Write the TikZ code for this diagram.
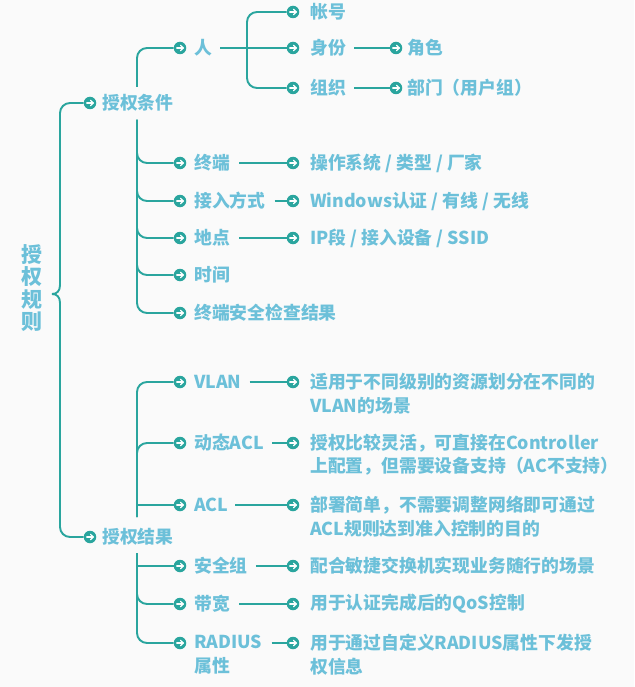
\documentclass[tikz,border=0pt]{standalone}
\usepackage{fontspec}
\setmainfont{Noto Sans CJK SC}
\definecolor{bgc}{HTML}{FAFAFA}
\definecolor{tealc}{HTML}{2AA59E}
\definecolor{txtc}{HTML}{6CC0D9}
\tikzset{
  conn/.style={draw=tealc, line width=1.9pt},
  rc/.style={rounded corners=10pt},
  dot/.style={circle, fill=tealc, minimum size=12.5pt, inner sep=0pt,
    path picture={
      \draw[white, line width=1.1pt, line cap=round]
        ([xshift=-3.3pt]path picture bounding box.center) -- ([xshift=3.2pt]path picture bounding box.center);
      \draw[white, line width=1.1pt, line cap=round, line join=round]
        ([xshift=0.4pt,yshift=2.8pt]path picture bounding box.center) -- ([xshift=3.3pt]path picture bounding box.center) -- ([xshift=0.4pt,yshift=-2.8pt]path picture bounding box.center);
    }},
  lbl/.style={anchor=west, inner sep=0pt, text=txtc, align=left,
    font=\fontsize{17.8}{23.5}\selectfont\bfseries},
}
\begin{document}
\begin{tikzpicture}[x=1pt,y=-1pt]
\fill[bgc] (0,0) rectangle (634,687);
\useasboundingbox (0,0) rectangle (634,687);

% root
\node[lbl, anchor=center, align=center, font=\fontsize{21}{22.5}\selectfont\bfseries] (root) at (32,288) {授\\权\\规\\则};

% level 1
\node[dot] (c-sq) at (90,103) {};
\node[lbl] (t-sq) at (102,103) {授权条件};
\node[dot] (c-jg) at (90,537) {};
\node[lbl] (t-jg) at (102,537) {授权结果};

\coordinate (tip) at (52,294);
\draw[conn] (tip) .. controls (57,294) and (60,291) .. (60,285) [rounded corners=10pt] |- (c-sq);
\draw[conn] (tip) .. controls (57,294) and (60,297) .. (60,303) [rounded corners=10pt] |- (c-jg);

% level 2 : conditions
\node[dot] (c-ren) at (180,48) {};  \node[lbl] (t-ren) at (194,48) {人};
\node[dot] (c-zd) at (180,163) {};  \node[lbl] (t-zd) at (194,163) {终端};
\node[dot] (c-jr) at (180,201) {};  \node[lbl] (t-jr) at (194,201) {接入方式};
\node[dot] (c-dd) at (180,238) {};  \node[lbl] (t-dd) at (194,238) {地点};
\node[dot] (c-sj) at (180,275) {};  \node[lbl] (t-sj) at (194,275) {时间};
\node[dot] (c-aq) at (180,313) {};  \node[lbl] (t-aq) at (194,313) {终端安全检查结果};

\coordinate (sqT) at (137,87);
\coordinate (sqB) at (137,120);
\draw[conn,rc] (sqT) |- (c-ren);
\draw[conn,rc] (sqB) |- (c-zd);
\draw[conn,rc] (sqB) |- (c-jr);
\draw[conn,rc] (sqB) |- (c-dd);
\draw[conn,rc] (sqB) |- (c-sj);
\draw[conn,rc] (sqB) |- (c-aq);

% level 3 : conditions
\node[dot] (c-zh) at (293,12) {};   \node[lbl] (t-zh) at (310,12) {帐号};
\node[dot] (c-sf) at (293,48) {};   \node[lbl] (t-sf) at (310,48) {身份};
\node[dot] (c-zz) at (293,88) {};   \node[lbl] (t-zz) at (310,88) {组织};
\node[dot] (c-js) at (396,48) {};   \node[lbl] (t-js) at (407,48) {角色};
\node[dot] (c-bm) at (396,88) {};   \node[lbl] (t-bm) at (407,88) {部门（用户组）};
\node[dot] (c-os) at (293,163) {};  \node[lbl] (t-os) at (310,163) {操作系统 / 类型 / 厂家};
\node[dot] (c-win) at (293,201) {}; \node[lbl] (t-win) at (310,201) {Windows认证 / 有线 / 无线};
\node[dot] (c-ip) at (293,238) {};  \node[lbl] (t-ip) at (310,238) {IP段 / 接入设备 / SSID};

\coordinate (j-ren) at (247,48);
\draw[conn, shorten <=8pt] (t-ren.east |- c-sf) -- (c-sf);
\draw[conn,rc] (j-ren) |- (c-zh);
\draw[conn,rc] (j-ren) |- (c-zz);
\draw[conn, shorten <=8pt] (t-sf.east |- c-js) -- (c-js);
\draw[conn, shorten <=8pt] (t-zz.east |- c-bm) -- (c-bm);
\draw[conn, shorten <=9pt] (t-zd.east |- c-os) -- (c-os);
\draw[conn, shorten <=9pt] (t-jr.east |- c-win) -- (c-win);
\draw[conn, shorten <=9pt] (t-dd.east |- c-ip) -- (c-ip);

% level 2 : results
\node[dot] (c-vlan) at (180,382) {}; \node[lbl] (t-vlan) at (194,382) {VLAN};
\node[dot] (c-dacl) at (180,443) {}; \node[lbl] (t-dacl) at (194,443) {动态ACL};
\node[dot] (c-acl) at (180,505) {};  \node[lbl] (t-acl) at (194,505) {ACL};
\node[dot] (c-aqz) at (180,566) {};  \node[lbl] (t-aqz) at (194,566) {安全组};
\node[dot] (c-dk) at (180,604) {};   \node[lbl] (t-dk) at (194,604) {带宽};
\node[dot] (c-rad) at (180,643) {};  \node[lbl] (t-rad) at (194,654.75) {RADIUS\\属性};

\coordinate (jgT) at (137,517);
\coordinate (jgB) at (137,553);
\draw[conn,rc] (jgT) |- (c-vlan);
\draw[conn,rc] (jgT) |- (c-dacl);
\draw[conn] (jgT) |- (c-acl);
\draw[conn] (jgB) |- (c-aqz);
\draw[conn,rc] (jgB) |- (c-dk);
\draw[conn,rc] (jgB) |- (c-rad);

% level 3 : results
\node[dot] (c-v1) at (293,382) {}; \node[lbl] (t-v1) at (310,393.75) {适用于不同级别的资源划分在不同的\\VLAN的场景};
\node[dot] (c-v2) at (293,443) {}; \node[lbl] (t-v2) at (310,454.75) {授权比较灵活，可直接在Controller\\上配置，但需要设备支持（AC不支持）};
\node[dot] (c-v3) at (293,505) {}; \node[lbl] (t-v3) at (310,516.75) {部署简单，不需要调整网络即可通过\\ACL规则达到准入控制的目的};
\node[dot] (c-v4) at (293,566) {}; \node[lbl] (t-v4) at (310,566) {配合敏捷交换机实现业务随行的场景};
\node[dot] (c-v5) at (293,604) {}; \node[lbl] (t-v5) at (310,604) {用于认证完成后的QoS控制};
\node[dot] (c-v6) at (293,643) {}; \node[lbl] (t-v6) at (310,654.75) {用于通过自定义RADIUS属性下发授\\权信息};

\draw[conn, shorten <=8pt] (t-vlan.east |- c-v1) -- (c-v1);
\draw[conn, shorten <=8pt] (t-dacl.east |- c-v2) -- (c-v2);
\draw[conn, shorten <=7pt] (t-acl.east |- c-v3) -- (c-v3);
\draw[conn, shorten <=8pt] (t-aqz.east |- c-v4) -- (c-v4);
\draw[conn, shorten <=9pt] (t-dk.east |- c-v5) -- (c-v5);
\draw[conn, shorten <=9pt] (t-rad.east |- c-v6) -- (c-v6);
\end{tikzpicture}
\end{document}
